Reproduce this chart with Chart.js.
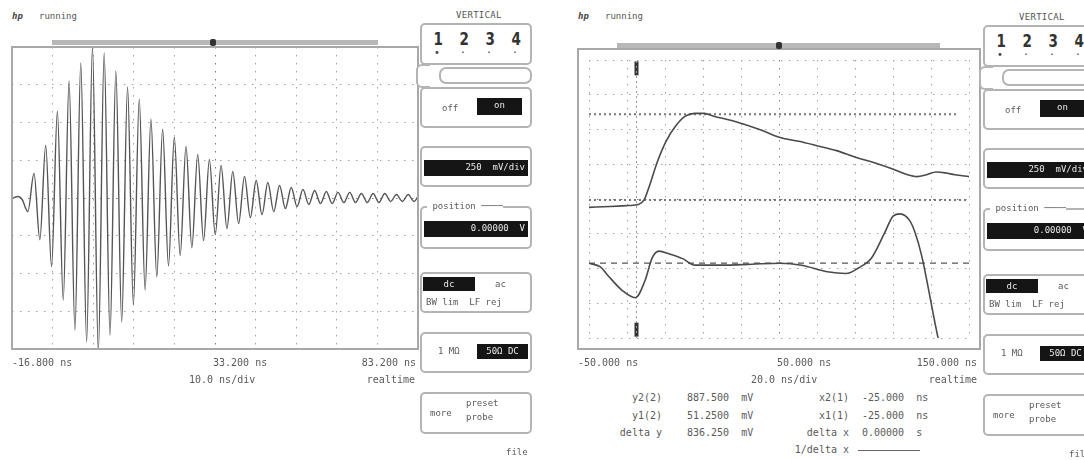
<!DOCTYPE html>
<html>
<head>
<meta charset="utf-8">
<script src="https://cdn.jsdelivr.net/npm/chart.js@4.4.1/dist/chart.umd.min.js"></script>
<style>
  body { margin: 0; background: #fff; }
  #page { position: relative; width: 1084px; height: 460px; overflow: hidden;
          font-family: "DejaVu Sans Mono", monospace; color: #5a5a5a; }
  .t { position: absolute; font-size: 10px; line-height: 12px; white-space: pre; }
  .frame { position: absolute; border: 2px solid #a8a8a8; box-sizing: border-box; pointer-events: none; }
  .box { position: absolute; border: 2px solid #b4b4b4; border-radius: 5px; box-sizing: border-box; background: #fff; }
  .blk { position: absolute; background: #151515; color: #e8e8e8; font-size: 9px; line-height: 15px;
         white-space: pre; text-align: right; box-sizing: border-box; padding-right: 3px; }
  canvas { position: absolute; }
</style>
</head>
<body>
<div id="page">
  <canvas id="leftChart" width="406" height="302" style="left:12px;top:47px"></canvas>
  <canvas id="rightChart" width="402" height="300" style="left:578px;top:49px"></canvas>
  <div class="frame" style="left:11px;top:46px;width:408px;height:304px"></div>
  <div class="frame" style="left:577px;top:48px;width:404px;height:302px"></div>
</div>
<script>
// left screen: 10 ns/div, 250 mV/div  (time in ns, level in mV)
var leftTime = [-16.8, -15.3, -14.3, -12.9, -11.38, -9.94, -8.5, -7.06, -5.62, -4.18,
  -2.74, -1.3, 0.14, 1.58, 3.02, 4.46, 5.9, 7.34, 8.78, 10.22,
  11.66, 13.1, 14.54, 15.98, 17.42, 18.86, 20.3, 21.74, 23.18, 24.62,
  26.06, 27.5, 28.94, 30.38, 31.82, 33.26, 34.7, 36.14, 37.58, 39.02,
  40.46, 41.9, 43.34, 44.78, 46.22, 47.66, 49.1, 50.54, 51.98, 53.42,
  54.86, 56.3, 57.74, 59.18, 60.62, 62.06, 63.5, 64.94, 66.38, 67.82,
  69.26, 70.7, 72.14, 73.58, 75.02, 76.46, 77.9, 79.34, 80.78, 82.22, 83.2];
var leftLevel = [-3, 10, -10, -90, 163, -276, 349, -456, 575, -675,
  775, -874, 894, -954, 1000, -1020, 960, -908, 841, -821,
  735, -708, 655, -608, 522, -522, 455, -449, 402, -382,
  342, -329, 289, -282, 256, -243, 216, -203, 176, -170,
  143, -130, 116, -110, 103, -90, 83, -70, 70, -57,
  57, -43, 50, -37, 43, -37, 37, -30, 37, -30,
  30, -30, 30, -30, 30, -23, 23, -23, 23, -23, 10];

// right screen: 20 ns/div, 250 mV/div
var upperTime = [-50, -39, -29, -24, -21, -18.2, -14.2, -9.2, -4.2, 0.7,
  5.7, 10.7, 15.7, 25.6, 40.5, 50.5, 60.4, 70.4, 80.3, 90.3,
  100.2, 110.2, 117.7, 122.6, 127.6, 132.6, 137.6, 142.5, 150];
var upperLevel = [-60, -54, -47, -40, -7, 94, 261, 422, 529, 596,
  616, 616, 596, 563, 496, 442, 415, 382, 348, 301,
  261, 214, 174, 161, 174, 194, 188, 174, 161];
var lowerTime = [-50, -44, -40.5, -32.6, -25.6, -20.6, -16.7, -13.2, -7.7, -0.7,
  5.7, 20.6, 35.6, 50.5, 61.9, 75.4, 85.3, 91.8, 98.8, 105.2,
  110.2, 113.7, 118.7, 121.6, 125.1, 133.6, 140];
var lowerLevel = [-462, -489, -543, -657, -710, -590, -422, -375, -395, -429,
  -476, -476, -469, -462, -476, -523, -536, -496, -422, -255,
  -121, -107, -154, -241, -409, -992, -1350];

var leftTicks = [-16.8, -6.8, 3.2, 13.2, 23.2, 33.2, 43.2, 53.2, 63.2, 73.2, 83.2];
var rightTicks = [-50, -30, -10, 10, 30, 50, 70, 90, 110, 130, 150];
var levelTicks = [-1000, -750, -500, -250, 0, 250, 500, 750, 1000];

var cursorTime = -25;      // x1 = x2
var cursorUpper = 610;     // y2 cursor line
var cursorLower = -7;      // y1 cursor line
var groundTwo = -462;      // channel 2 reference

function pts(xs, ys) {
  return xs.map(function (x, i) { return { x: x, y: ys[i] }; });
}

function scopeScales(ticks, mid) {
  var grid = {
    color: function (c) { return c.index === mid ? '#7c7c7c' : '#a2a2a2'; },
    lineWidth: 1,
    drawTicks: false
  };
  return {
    x: {
      type: 'linear', min: ticks[0], max: ticks[ticks.length - 1],
      afterBuildTicks: function (axis) { axis.ticks = ticks.map(function (v) { return { value: v }; }); },
      ticks: { display: false },
      grid: grid,
      border: { display: false, dash: [1.5, 6.5] }
    },
    y: {
      min: levelTicks[0], max: levelTicks[levelTicks.length - 1],
      afterBuildTicks: function (axis) { axis.ticks = levelTicks.map(function (v) { return { value: v }; }); },
      ticks: { display: false },
      grid: { color: function (c) { return c.index === 4 ? '#7c7c7c' : '#a2a2a2'; }, drawTicks: false },
      border: { display: false, dash: [1.5, 6.5] }
    }
  };
}

var common = {
  responsive: false,
  animation: false,
  layout: { padding: 0 },
  plugins: { legend: { display: false }, tooltip: { enabled: false } },
  elements: { point: { radius: 0 } }
};

new Chart(document.getElementById('leftChart').getContext('2d'), {
  type: 'line',
  data: {
    datasets: [{
      data: pts(leftTime, leftLevel),
      borderColor: '#555',
      borderWidth: 1.4,
      cubicInterpolationMode: 'monotone'
    }]
  },
  options: Object.assign({}, common, { scales: scopeScales(leftTicks, 5) })
});

var rightEnd = rightTicks[rightTicks.length - 1];
new Chart(document.getElementById('rightChart').getContext('2d'), {
  type: 'line',
  data: {
    datasets: [
      { data: pts(upperTime, upperLevel), borderColor: '#4a4a4a', borderWidth: 1.6, cubicInterpolationMode: 'monotone' },
      { data: pts(lowerTime, lowerLevel), borderColor: '#4a4a4a', borderWidth: 1.6, cubicInterpolationMode: 'monotone' },
      { data: [{ x: rightTicks[0], y: groundTwo }, { x: rightEnd, y: groundTwo }],
        borderColor: '#555', borderWidth: 1.2, borderDash: [6, 5] },
      { data: [{ x: rightTicks[0], y: cursorUpper }, { x: 144, y: cursorUpper }],
        borderColor: '#777', borderWidth: 2, borderDash: [2, 3] },
      { data: [{ x: rightTicks[0], y: cursorLower }, { x: rightEnd, y: cursorLower }],
        borderColor: '#777', borderWidth: 2, borderDash: [2, 3] },
      { data: [{ x: cursorTime, y: -1000 }, { x: cursorTime, y: 1000 }],
        borderColor: '#999', borderWidth: 1, borderDash: [2, 3] },
      { data: [{ x: cursorTime, y: 940 }, { x: cursorTime, y: -940 }], showLine: false,
        pointRadius: 7, pointStyle: 'line', rotation: 90, pointBorderWidth: 4,
        pointBorderColor: '#333' }
    ]
  },
  options: Object.assign({}, common, { scales: scopeScales(rightTicks, 5) })
});

// ---- screen furniture (text, status bars, softkey panels)
var page = document.getElementById('page');
function el(cls, x, y, w, h, text, css) {
  var d = document.createElement('div');
  d.className = cls;
  d.style.left = x + 'px';
  d.style.top = y + 'px';
  if (w != null) d.style.width = w + 'px';
  if (h != null) d.style.height = h + 'px';
  if (text != null) d.textContent = text;
  if (css) d.style.cssText += css;
  page.appendChild(d);
  return d;
}
function txt(x, y, s, css) { return el('t', x, y, null, null, s, css); }
function rtxt(right, y, s, css) { return el('t', 1084 - right, y, null, null, s, 'left:auto;right:' + (1084 - right) + 'px;' + (css || '')); }

// header + record bars
[[12, 52, 378, 40, 213], [578, 617, 940, 43, 779]].forEach(function (h) {
  txt(h[0], 10, 'hp', 'font-weight:bold;font-style:italic;font-size:9px;color:#444');
  txt(h[0] + 27, 10, 'running', 'font-size:9px;color:#555');
  el('', h[1], h[3], h[2] - h[1], 5, null, 'position:absolute;background:#b8b8b8');
  el('', h[4] - 3, h[3] - 1, 6, 7, null, 'position:absolute;background:#333;border-radius:2px');
});

// axis annotations
txt(12, 357, '-16.800 ns');
txt(213, 357, '33.200 ns');
rtxt(416, 357, '83.200 ns');
txt(189, 374, '10.0 ns/div');
rtxt(415, 374, 'realtime');

txt(578, 357, '-50.000 ns');
txt(777, 357, '50.000 ns');
rtxt(977, 357, '150.000 ns');
txt(751, 374, '20.0 ns/div');
rtxt(977, 374, 'realtime');

// cursor readout
var readRows = [
  ['y2(2)', '887.500  mV', 'x2(1)', '-25.000  ns'],
  ['y1(2)', '51.2500  mV', 'x1(1)', '-25.000  ns'],
  ['delta y', '836.250  mV', 'delta x', '0.00000  s']
];
readRows.forEach(function (r, i) {
  var y = 392 + i * 17.5;
  rtxt(662, y, r[0]);
  txt(687, y, r[1]);
  rtxt(849, y, r[2]);
  txt(862, y, r[3]);
});
rtxt(849, 444, '1/delta x');
el('', 858, 450, 62, 1, null, 'position:absolute;background:#666');

// softkey panels
function panel(x0, dy) {
  txt(x0 + 38, 9 + dy, 'VERTICAL', 'font-size:9px;letter-spacing:0.3px;color:#555');
  el('box', x0 + 2, 23 + dy, 112, 42);
  ['1', '2', '3', '4'].forEach(function (d, i) {
    txt(x0 + 14 + i * 26, 29 + dy, d, 'font-family:"DejaVu Sans";font-weight:bold;font-size:18px;line-height:20px;color:#333;transform:scaleX(0.75)');
    txt(x0 + 16 + i * 26, 47 + dy, i === 0 ? '\u2022' : '\u00b7', 'color:#444');
  });
  el('box', x0 - 2, 64 + dy, 14, 24, null, 'border-right:none;border-radius:6px 0 0 6px');
  el('box', x0 + 21, 67 + dy, 93, 17, null, 'border-radius:7px');
  el('box', x0 + 2, 87 + dy, 112, 41);
  txt(x0 + 24, 102 + dy, 'off', 'font-size:9px');
  el('blk', x0 + 59, 98 + dy, 45, 17, 'on', 'text-align:center;padding:0');

  el('box', x0 + 2, 146 + dy, 112, 41);
  el('blk', x0 + 6, 160 + dy, 104, 16, '250  mV/div');

  el('box', x0 + 2, 206 + dy, 112, 43);
  txt(x0 + 9, 200 + dy, ' position \u2500\u2500\u2500\u2500', 'font-size:9px;background:#fff');
  el('blk', x0 + 6, 221 + dy, 104, 16, '0.00000  V');

  el('box', x0 + 2, 272 + dy, 112, 41);
  el('blk', x0 + 5, 277 + dy, 52, 14, 'dc', 'text-align:center;padding:0;line-height:14px');
  txt(x0 + 77, 278 + dy, 'ac', 'font-size:9px');
  txt(x0 + 8, 296 + dy, 'BW lim  LF rej', 'font-size:9px');

  el('box', x0 + 2, 332 + dy, 112, 41);
  txt(x0 + 20, 345 + dy, '1 M\u03a9', 'font-size:9px');
  el('blk', x0 + 59, 344 + dy, 51, 15, '50\u03a9 DC', 'text-align:center;padding:0');

  el('box', x0 + 2, 392 + dy, 112, 42);
  txt(x0 + 12, 407 + dy, 'more', 'font-size:9px');
  txt(x0 + 48, 397 + dy, 'preset', 'font-size:9px');
  txt(x0 + 48, 411 + dy, 'probe', 'font-size:9px');
  txt(x0 + 88, 446 + dy, 'file', 'font-size:9px');
}
panel(418, 0);
panel(981, 2);
</script>
</body>
</html>
